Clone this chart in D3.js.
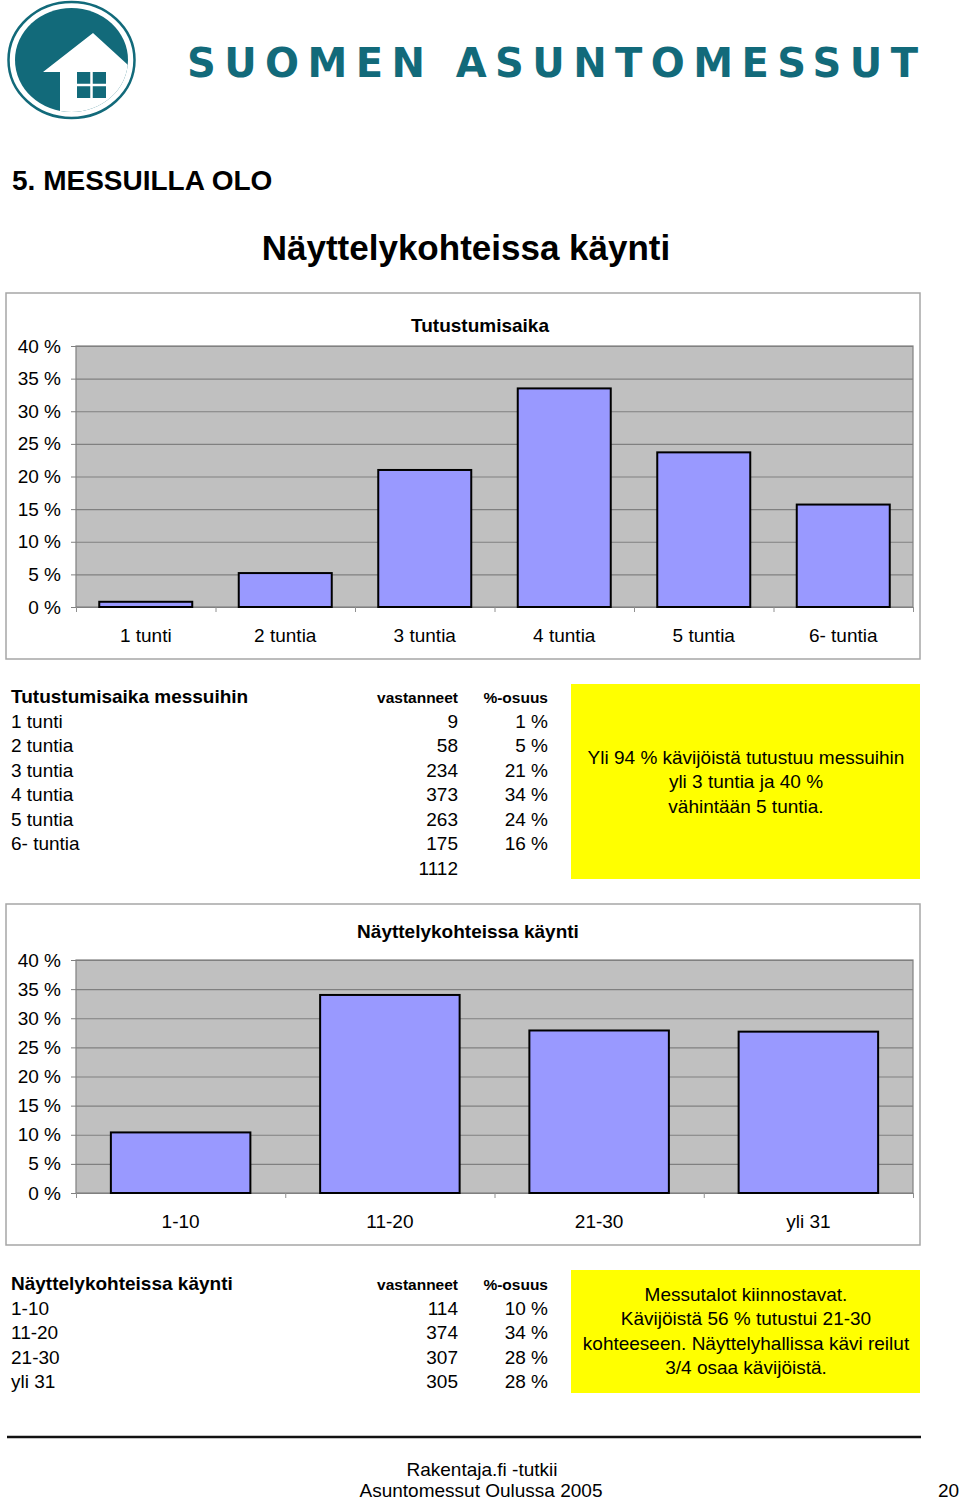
<!DOCTYPE html>
<html>
<head>
<meta charset="utf-8">
<script src="https://cdn.jsdelivr.net/npm/d3@7"></script>
<style>
body{margin:0;background:#fff}
svg{display:block;font-family:"Liberation Sans",Arial,sans-serif}
</style>
</head>
<body>
<svg id="drawing_region"></svg>
<script>
// data
const timeCats = ['1 tunti','2 tuntia','3 tuntia','4 tuntia','5 tuntia','6- tuntia']
const timeCounts = [9,58,234,373,263,175]
const timePct = [0.8,5.2,21.0,33.5,23.7,15.7]
const timeNote = ['Yli 94 % kävijöistä tutustuu messuihin','yli 3 tuntia ja 40 %','vähintään 5 tuntia.']

const visitCats = ['1-10','11-20','21-30','yli 31']
const visitCounts = [114,374,307,305]
const visitPct = [10.4,34.0,27.9,27.7]
const visitNote = ['Messutalot kiinnostavat.','Kävijöistä 56 % tutustui 21-30','kohteeseen. Näyttelyhallissa kävi reilut','3/4 osaa kävijöistä.']

const pctTicks = [0,5,10,15,20,25,30,35,40]

const TEAL = '#126a7a'

class BarChart{
    constructor(config,cats,values){
        this.config = config
        this.cats = cats
        this.values = values
        this.init()
    }

    init(){
        let self = this
        const c = self.config
        self.g = c.parent.append('g')
        self.inner_width = c.plot.right - c.plot.left
        self.inner_height = c.plot.bottom - c.plot.top
        self.xscale = d3.scaleBand().domain(self.cats).range([0,self.inner_width])
            .paddingInner(1/3).paddingOuter(1/6)
        self.yscale = d3.scaleLinear().domain([0,40]).range([self.inner_height,0])
        self.edges = d3.scaleLinear().domain([0,self.cats.length]).range([0,self.inner_width])
    }

    render(){
        let self = this
        const c = self.config

        self.g.append('rect')
            .attr('x',c.box.x).attr('y',c.box.y)
            .attr('width',c.box.w).attr('height',c.box.h)
            .attr('fill','#fff').attr('stroke','#a6a6a6').attr('stroke-width',1.5)

        self.g.append('text')
            .attr('x',c.titleX).attr('y',c.titleY)
            .attr('text-anchor','middle')
            .attr('font-size',19).attr('font-weight','bold')
            .text(c.title)

        const chart = self.g.append('g')
            .attr('transform',`translate(${c.plot.left},${c.plot.top})`)

        chart.append('rect')
            .attr('width',self.inner_width).attr('height',self.inner_height)
            .attr('fill','#c0c0c0').attr('stroke','#808080').attr('stroke-width',1.2)

        const grid = chart.append('g')
            .call(d3.axisLeft(self.yscale).tickValues(pctTicks).tickSize(-self.inner_width).tickFormat(''))
        grid.select('.domain').remove()
        grid.selectAll('line').attr('stroke','#808080').attr('stroke-width',1.2)

        const edgeAxis = chart.append('g')
            .attr('transform',`translate(0,${self.inner_height})`)
            .call(d3.axisBottom(self.edges).tickValues(d3.range(self.cats.length+1)).tickSize(5).tickFormat(''))
        edgeAxis.select('.domain').attr('stroke','#808080')
        edgeAxis.selectAll('line').attr('stroke','#909090')

        chart.selectAll('.bar').data(self.values).enter()
            .append('rect')
            .attr('class','bar')
            .attr('x',(d,i) => self.xscale(self.cats[i]))
            .attr('y',d => self.yscale(d))
            .attr('width',self.xscale.bandwidth())
            .attr('height',d => self.inner_height - self.yscale(d))
            .attr('fill','#9999ff')
            .attr('stroke','#000').attr('stroke-width',2)

        const yaxis = chart.append('g')
            .call(d3.axisLeft(self.yscale).tickValues(pctTicks).tickSize(5).tickPadding(10).tickFormat(d => d + ' %'))
        yaxis.select('.domain').remove()
        yaxis.selectAll('line').attr('stroke','#808080')
        yaxis.selectAll('text').attr('font-size',19).attr('fill','#000').attr('font-family',null)

        const xaxis = chart.append('g')
            .attr('transform',`translate(0,${self.inner_height})`)
            .call(d3.axisBottom(self.xscale).tickSize(0).tickPadding(22))
        xaxis.select('.domain').remove()
        xaxis.selectAll('text').attr('font-size',19).attr('fill','#000').attr('font-family',null)
    }
}

class DataTable{
    constructor(config,cats,counts,pct){
        this.config = config
        this.cats = cats
        this.counts = counts
        this.pct = pct
    }

    render(){
        let self = this
        const c = self.config
        const g = c.parent.append('g')
        const rowY = i => c.top + (i+1)*24.5

        g.append('text').attr('x',11).attr('y',c.top)
            .attr('font-size',19).attr('font-weight','bold').text(c.title)
        g.append('text').attr('x',458).attr('y',c.top).attr('text-anchor','end')
            .attr('font-size',15.5).attr('font-weight','bold').text('vastanneet')
        g.append('text').attr('x',548).attr('y',c.top).attr('text-anchor','end')
            .attr('font-size',15.5).attr('font-weight','bold').text('%-osuus')

        self.cats.forEach((d,i) => {
            g.append('text').attr('x',11).attr('y',rowY(i)).attr('font-size',19).text(d)
            g.append('text').attr('x',458).attr('y',rowY(i)).attr('text-anchor','end')
                .attr('font-size',19).text(self.counts[i])
            g.append('text').attr('x',548).attr('y',rowY(i)).attr('text-anchor','end')
                .attr('font-size',19).text(Math.round(self.pct[i]) + ' %')
        })
        if(c.showTotal){
            g.append('text').attr('x',458).attr('y',rowY(self.cats.length)).attr('text-anchor','end')
                .attr('font-size',19).text(d3.sum(self.counts))
        }

        // yellow note box
        g.append('rect').attr('x',571).attr('y',c.note.y)
            .attr('width',349).attr('height',c.note.h).attr('fill','#ffff00')
        g.selectAll('.note').data(c.note.lines).enter()
            .append('text')
            .attr('x',746)
            .attr('y',(d,i) => c.note.first + i*24.4)
            .attr('text-anchor','middle')
            .attr('font-size',19)
            .text(d => d)
    }
}

const svg = d3.select('#drawing_region').attr('width',960).attr('height',1502)

// header logo
const defs = svg.append('defs')
defs.append('clipPath').attr('id','disk')
    .append('ellipse').attr('cx',71.5).attr('cy',60).attr('rx',56.5).attr('ry',52)
svg.append('ellipse').attr('cx',71.5).attr('cy',60).attr('rx',63).attr('ry',58)
    .attr('fill','none').attr('stroke',TEAL).attr('stroke-width',2.5)
svg.append('ellipse').attr('cx',71.5).attr('cy',60).attr('rx',56.5).attr('ry',52).attr('fill',TEAL)
svg.append('polygon')
    .attr('points','43,72 93,33 140,76 140,130 60,130 60,72')
    .attr('fill','#fff').attr('clip-path','url(#disk)')
svg.append('rect').attr('x',77).attr('y',72).attr('width',29).attr('height',26).attr('fill',TEAL)
svg.append('line').attr('x1',91.5).attr('x2',91.5).attr('y1',72).attr('y2',98).attr('stroke','#fff').attr('stroke-width',2.5)
svg.append('line').attr('x1',77).attr('x2',106).attr('y1',85).attr('y2',85).attr('stroke','#fff').attr('stroke-width',2.5)

svg.append('text')
    .attr('x',187).attr('y',77)
    .attr('font-family','"DejaVu Sans",sans-serif')
    .attr('font-weight','bold').attr('font-size',40)
    .attr('fill',TEAL)
    .attr('textLength',731).attr('lengthAdjust','spacing')
    .text('SUOMEN ASUNTOMESSUT')

svg.append('text').attr('x',12).attr('y',190)
    .attr('font-size',28).attr('font-weight','bold').text('5. MESSUILLA OLO')
svg.append('text').attr('x',466).attr('y',260).attr('text-anchor','middle')
    .attr('font-size',35).attr('font-weight','bold').text('Näyttelykohteissa käynti')

const chart1 = new BarChart({
    parent: svg,
    box: {x:6, y:293, w:914, h:366},
    plot: {left:76, right:913, top:346, bottom:607},
    title: 'Tutustumisaika', titleX: 480, titleY: 332
}, timeCats, timePct)
chart1.render()

new DataTable({
    parent: svg, top: 703, title: 'Tutustumisaika messuihin', showTotal: true,
    note: {y:684, h:195, first:764, lines: timeNote}
}, timeCats, timeCounts, timePct).render()

const chart2 = new BarChart({
    parent: svg,
    box: {x:6, y:904, w:914, h:341},
    plot: {left:76, right:913, top:960, bottom:1193},
    title: 'Näyttelykohteissa käynti', titleX: 468, titleY: 938
}, visitCats, visitPct)
chart2.render()

new DataTable({
    parent: svg, top: 1290, title: 'Näyttelykohteissa käynti', showTotal: false,
    note: {y:1270, h:123, first:1301, lines: visitNote}
}, visitCats, visitCounts, visitPct).render()

// footer
svg.append('line').attr('x1',7).attr('x2',921).attr('y1',1437).attr('y2',1437)
    .attr('stroke','#111').attr('stroke-width',2.5)
svg.append('text').attr('x',482).attr('y',1476).attr('text-anchor','middle').attr('font-size',19).text('Rakentaja.fi -tutkii')
svg.append('text').attr('x',481).attr('y',1497).attr('text-anchor','middle').attr('font-size',19).text('Asuntomessut Oulussa 2005')
svg.append('text').attr('x',938).attr('y',1497).attr('font-size',19).text('20')
</script>
</body>
</html>
